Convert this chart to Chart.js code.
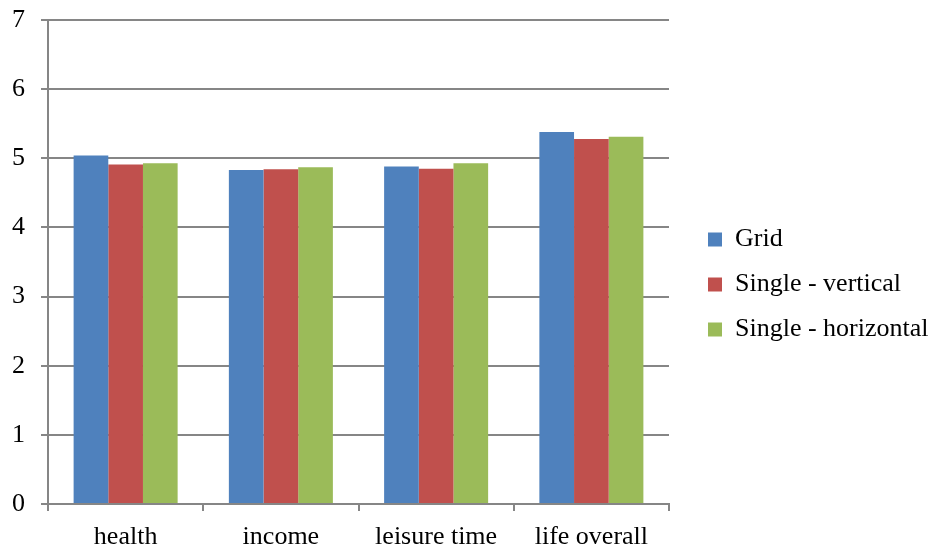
<!DOCTYPE html>
<html>
<head>
<meta charset="utf-8">
<script src="https://cdn.jsdelivr.net/npm/chart.js@4/dist/chart.umd.min.js"></script>
<style>
  html, body { margin: 0; padding: 0; background: #fff; }
  #wrap { width: 931px; height: 549px; position: relative; }
</style>
</head>
<body>
<div id="wrap"><canvas id="c"></canvas></div>
<script>
// Satisfaction ratings by domain and layout condition
const categories = ['health', 'income', 'leisure time', 'life overall'];
const gridValues = [5.04, 4.83, 4.88, 5.38];
const singleVerticalValues = [4.91, 4.84, 4.85, 5.28];
const singleHorizontalValues = [4.93, 4.87, 4.93, 5.31];
const seriesNames = ['Grid', 'Single - vertical', 'Single - horizontal'];
const yTicks = [0, 1, 2, 3, 4, 5, 6, 7];

const FONT = "'Liberation Serif', 'Times New Roman', serif";
const axisGray = '#868686';

new Chart(document.getElementById('c'), {
  type: 'bar',
  data: {
    labels: categories,
    datasets: [
      { label: seriesNames[0], data: gridValues, backgroundColor: '#4F81BD' },
      { label: seriesNames[1], data: singleVerticalValues, backgroundColor: '#C0504D' },
      { label: seriesNames[2], data: singleHorizontalValues, backgroundColor: '#9BBB59' }
    ]
  },
  options: {
    responsive: true,
    maintainAspectRatio: false,
    animation: false,
    layout: { padding: { left: 0, top: 20, right: 0, bottom: 0 } },
    datasets: { bar: { categoryPercentage: 0.67, barPercentage: 1.0 } },
    plugins: {
      tooltip: { enabled: false },
      legend: {
        position: 'right',
        align: 'center',
        maxWidth: 242,
        labels: {
          color: '#000',
          font: { family: FONT, size: 26 },
          boxWidth: 14,
          boxHeight: 14,
          padding: 19
        }
      }
    },
    scales: {
      x: {
        offset: true,
        afterFit: (axis) => {
          axis.height = 45;
          axis.paddingLeft = 0;
          axis.paddingRight = 0;
        },
        grid: {
          offset: true,
          drawOnChartArea: false,
          drawTicks: true,
          tickLength: 7,
          color: axisGray,
          lineWidth: 2
        },
        border: { display: true, color: axisGray, width: 2 },
        ticks: { color: '#000', font: { family: FONT, size: 26 }, padding: 11 }
      },
      y: {
        min: 0,
        max: 7,
        afterBuildTicks: (axis) => { axis.ticks = yTicks.map(v => ({ value: v })); },
        afterFit: (axis) => {
          axis.width = 48;
          axis.paddingTop = 0;
          axis.paddingBottom = 0;
        },
        grid: {
          color: axisGray,
          lineWidth: 2,
          drawTicks: true,
          tickLength: 7
        },
        border: { display: true, color: axisGray, width: 2 },
        ticks: { color: '#000', font: { family: FONT, size: 26 }, padding: 16 }
      },
      // empty right-hand axis that keeps a gap between the plot and the legend
      gap: {
        type: 'linear',
        position: 'right',
        display: true,
        grid: { display: false },
        border: { display: false },
        ticks: { display: false },
        afterFit: (axis) => {
          axis.width = 20;
          axis.paddingTop = 0;
          axis.paddingBottom = 0;
        }
      }
    }
  }
});
</script>
</body>
</html>
